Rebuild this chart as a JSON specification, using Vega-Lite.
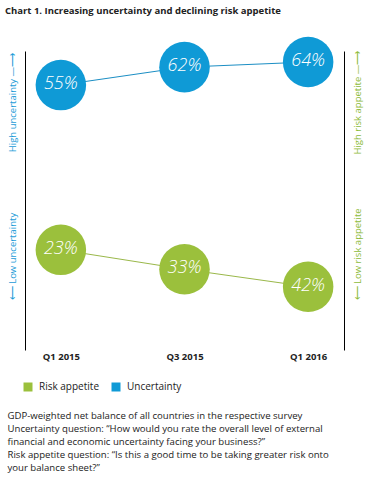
{
  "$schema": "https://vega.github.io/schema/vega-lite/v6.json",
  "width": 319,
  "height": 299,
  "autosize": "none",
  "padding": {"left": 25, "top": 51, "right": 21, "bottom": 130},
  "config": {"font": "Open Sans", "view": {"stroke": null}},
  "title": {
    "text": "Chart 1. Increasing uncertainty and declining risk appetite",
    "anchor": "start",
    "frame": "group",
    "dx": -20,
    "offset": 21,
    "fontSize": 9.5,
    "fontWeight": "bold",
    "color": "#222222",
    "font": "Open Sans"
  },
  "data": {
    "values": [
      {"quarter": "Q1 2015", "series": "Uncertainty", "value": 0.55},
      {"quarter": "Q3 2015", "series": "Uncertainty", "value": 0.62},
      {"quarter": "Q1 2016", "series": "Uncertainty", "value": 0.64},
      {"quarter": "Q1 2015", "series": "Risk appetite", "value": 0.23},
      {"quarter": "Q3 2015", "series": "Risk appetite", "value": 0.33},
      {"quarter": "Q1 2016", "series": "Risk appetite", "value": 0.42}
    ]
  },
  "layer": [
    {
      "encoding": {
        "y": {
          "field": "value",
          "type": "quantitative",
          "scale": {"domain": [-0.485, 0.683], "nice": false, "zero": false},
          "axis": {
            "orient": "left",
            "values": [0.4835, -0.118],
            "labelExpr": "datum.value > 0.2 ? 'High uncertainty \u2014\u27f6' : '\u27f5    Low uncertainty'",
            "labelAngle": -90,
            "labelAlign": "center",
            "labelBaseline": "bottom",
            "labelPadding": 8,
            "labelFontSize": 9.5,
            "labelColor": "#1a9bd7",
            "labelOverlap": false,
            "labelBound": false,
            "labelFlush": false,
            "ticks": false,
            "grid": false,
            "domain": true,
            "domainColor": "#000000",
            "domainWidth": 1,
            "title": null
          }
        }
      },
      "layer": [
        {
          "transform": [{"filter": "datum.series === 'Uncertainty'"}],
          "encoding": {
            "x": {
              "field": "quarter",
              "type": "ordinal",
              "sort": ["Q1 2015", "Q3 2015", "Q1 2016"],
              "scale": {"type": "point", "padding": 0.29},
              "axis": {
                "orient": "bottom",
                "domain": false,
                "ticks": false,
                "grid": false,
                "labelAngle": 0,
                "labelPadding": 1,
                "labelFontSize": 9.5,
                "labelFontWeight": "bold",
                "labelColor": "#222222",
                "title": [
                  "GDP-weighted net balance of all countries in the respective survey",
                  "Uncertainty question: \u201cHow would you rate the overall level of external",
                  "financial and economic uncertainty facing your business?\u201d",
                  "Risk appetite question: \u201cIs this a good time to be taking greater risk onto",
                  "your balance sheet?\u201d"
                ],
                "titleX": -18,
                "titleY": 68,
                "titleAlign": "left",
                "titleAnchor": null,
                "titleBaseline": "alphabetic",
                "titleFontSize": 9.6,
                "titleFontWeight": "normal",
                "titleColor": "#222222",
                "titleLineHeight": 13
              }
            }
          },
          "layer": [
            {"mark": {"type": "line", "color": "#1b8ec4", "strokeWidth": 1}},
            {
              "mark": {"type": "circle", "size": 2552, "opacity": 1},
              "encoding": {
                "color": {
                  "field": "series",
                  "type": "nominal",
                  "scale": {"domain": ["Risk appetite", "Uncertainty"], "range": ["#9bc03c", "#0f9ad6"]},
                  "legend": {
                    "orient": "none",
                    "legendX": -2,
                    "legendY": 331,
                    "direction": "horizontal",
                    "title": null,
                    "symbolType": "square",
                    "symbolSize": 81,
                    "symbolStrokeWidth": 0,
                    "labelFontSize": 10,
                    "labelColor": "#222222",
                    "labelOffset": 6,
                    "columnPadding": 12,
                    "padding": 0
                  }
                }
              }
            },
            {
              "mark": {"type": "text", "color": "white", "fontSize": 18, "fontStyle": "italic", "fontWeight": 300, "baseline": "middle", "dy": -1},
              "encoding": {"text": {"field": "value", "type": "quantitative", "format": ".0%"}}
            }
          ]
        },
        {
          "data": {"values": [{}]},
          "mark": {"type": "rule", "color": "#000000", "strokeWidth": 1},
          "encoding": {"y": {"datum": 0.085}}
        }
      ]
    },
    {
      "transform": [{"filter": "datum.series === 'Risk appetite'"}],
      "encoding": {
        "x": {
          "field": "quarter",
          "type": "ordinal",
          "sort": ["Q1 2015", "Q3 2015", "Q1 2016"],
          "scale": {"type": "point", "padding": 0.29}
        },
        "y": {
          "field": "value",
          "type": "quantitative",
          "scale": {"domain": [-0.792, 0.745], "nice": false, "zero": false, "reverse": true},
          "axis": {
            "orient": "right",
            "values": [-0.529, 0.251],
            "labelExpr": "datum.value < 0 ? 'High risk appetite \u2014\u27f6' : '\u27f5    Low risk appetite'",
            "labelAngle": -90,
            "labelAlign": "center",
            "labelBaseline": "top",
            "labelPadding": 8,
            "labelFontSize": 9.5,
            "labelColor": "#8dbb3a",
            "labelOverlap": false,
            "labelBound": false,
            "labelFlush": false,
            "ticks": false,
            "grid": false,
            "domain": true,
            "domainColor": "#000000",
            "domainWidth": 1,
            "title": null
          }
        }
      },
      "layer": [
        {"mark": {"type": "line", "color": "#9ab84a", "strokeWidth": 1}},
        {
          "mark": {"type": "circle", "size": 2552, "opacity": 1},
          "encoding": {"color": {"field": "series", "type": "nominal"}}
        },
        {
          "mark": {"type": "text", "color": "white", "fontSize": 18, "fontStyle": "italic", "fontWeight": 300, "baseline": "middle", "dy": -1},
          "encoding": {"text": {"field": "value", "type": "quantitative", "format": ".0%"}}
        }
      ]
    }
  ],
  "resolve": {"scale": {"y": "independent"}, "axis": {"y": "independent"}}
}
